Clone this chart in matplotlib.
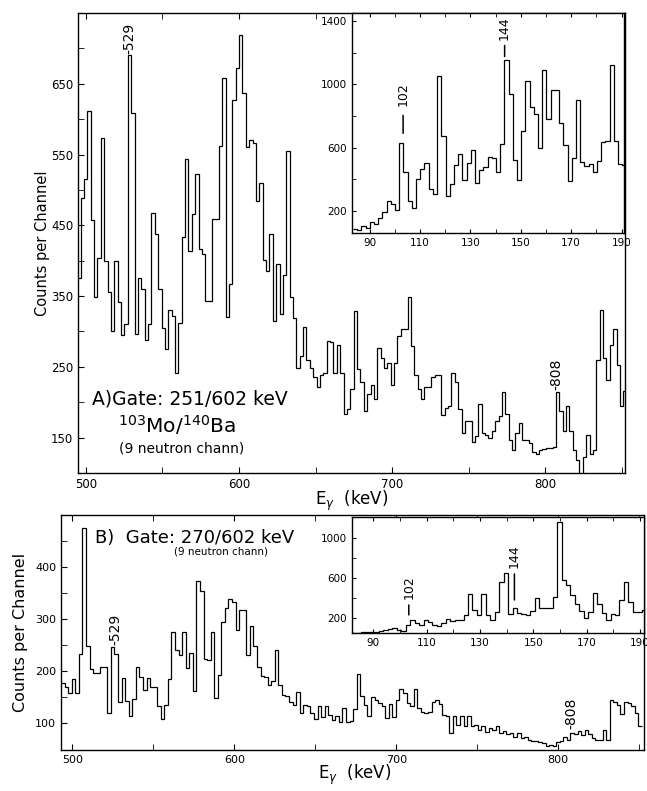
import numpy as np
import matplotlib
matplotlib.use('Agg')
import matplotlib.pyplot as plt
from matplotlib.ticker import MultipleLocator

plt.rcParams['font.family'] = 'DejaVu Sans'
plt.rcParams['xtick.direction'] = 'in'
plt.rcParams['ytick.direction'] = 'in'
plt.rcParams['xtick.top'] = True
plt.rcParams['axes.linewidth'] = 1.0
plt.rcParams['xtick.major.size'] = 4
plt.rcParams['ytick.major.size'] = 4
plt.rcParams['xtick.minor.size'] = 4
plt.rcParams['ytick.minor.size'] = 4

# channel calibration (start energy, keV per channel)
E0_A, DE_A = 494.5, 2.2
E0_B, DE_B = 493.0, 2.2
E0_IA, DE_IA = 83.4, 1.67
E0_IB, DE_IB = 82.1, 1.67

# A) gate 251/602 keV, high-energy part
counts_a = [376, 488, 516, 612, 458, 349, 404, 573, 400, 356,
            300, 399, 342, 295, 311, 690, 609, 297, 375, 360,
            288, 311, 467, 438, 360, 305, 275, 331, 322, 242,
            312, 434, 544, 414, 466, 523, 417, 410, 343, 343,
            459, 459, 562, 658, 321, 367, 627, 672, 719, 637,
            560, 571, 566, 485, 510, 401, 385, 438, 315, 396,
            324, 380, 555, 348, 319, 249, 266, 307, 260, 249,
            235, 221, 239, 241, 286, 285, 241, 281, 241, 184,
            191, 219, 329, 247, 228, 188, 212, 225, 205, 277,
            262, 249, 255, 225, 255, 293, 303, 303, 348, 280,
            238, 219, 205, 222, 221, 235, 239, 239, 182, 192,
            195, 242, 228, 191, 156, 174, 174, 144, 153, 198,
            156, 154, 150, 160, 174, 181, 215, 184, 146, 132,
            156, 170, 147, 146, 143, 129, 127, 133, 134, 136,
            136, 137, 214, 187, 160, 195, 160, 132, 118, 90,
            122, 154, 127, 132, 260, 331, 263, 232, 281, 304,
            253, 195, 216]

# A) inset, low-energy part
counts_ia = [88, 82, 105, 93, 131, 120, 158, 194, 261, 246,
             208, 629, 446, 261, 221, 404, 467, 503, 335, 309,
             1051, 672, 293, 368, 488, 558, 394, 503, 587, 373,
             461, 478, 541, 535, 446, 621, 1152, 941, 524, 394,
             705, 1021, 857, 811, 594, 1088, 783, 962, 962, 752,
             615, 389, 537, 903, 509, 484, 499, 446, 516, 636,
             640, 1120, 642, 499, 488]

# B) gate 270/602 keV, high-energy part
counts_b = [177, 170, 157, 185, 157, 233, 475, 248, 203, 197,
            197, 208, 207, 120, 247, 233, 141, 186, 143, 113,
            146, 207, 188, 163, 186, 169, 169, 132, 108, 135,
            184, 274, 240, 231, 275, 205, 235, 161, 373, 354,
            223, 221, 274, 148, 192, 295, 322, 339, 333, 279,
            317, 318, 231, 287, 248, 207, 190, 189, 173, 181,
            240, 173, 154, 151, 140, 135, 160, 120, 135, 133,
            119, 108, 132, 111, 133, 116, 105, 113, 101, 129,
            101, 103, 127, 194, 152, 135, 114, 149, 144, 139,
            133, 109, 136, 111, 144, 166,
            157, 138, 132, 165, 129, 122, 120, 122, 141, 145,
            137, 116, 113, 81, 113, 97, 113, 94, 114, 94,
            97, 86, 94, 82, 90, 87, 94, 81, 84, 78,
            81, 74, 81, 71, 74, 68, 65, 65, 63, 62,
            55, 58, 55, 63, 65, 74, 68, 81, 78, 84,
            76, 86, 78, 71, 68, 68, 86, 68, 145, 141,
            135, 118, 141, 139, 132, 120, 94]

# B) inset, low-energy part
counts_ib = [50, 50, 55, 60, 63, 63, 70, 80, 90, 97,
             80, 70, 130, 180, 147, 130, 180, 163, 130, 123,
             147, 190, 170, 180, 180, 230, 437, 280, 230, 437,
             230, 180, 257, 563, 647, 237, 303, 247, 237, 230,
             270, 403, 303, 297, 303, 413, 1163, 580, 530, 430,
             337, 270, 197, 263, 447, 337, 247, 180, 237, 230,
             380, 557, 357, 257, 257, 280]


def edges(e0, de, vals):
    return e0 + de * np.arange(len(vals) + 1)


def spectrum(ax, e0, de, vals):
    ax.stairs(vals, edges(e0, de, vals), baseline=None, color='black', lw=0.9)


fig = plt.figure(figsize=(6.47, 7.91), dpi=100)

# ---------------- panel A ----------------
ax_a = fig.add_axes([0.1206, 0.402, 0.8454, 0.5816])
spectrum(ax_a, E0_A, DE_A, counts_a)
ax_a.set_xlim(495, 852)
ax_a.set_ylim(100, 750)
ax_a.xaxis.set_major_locator(MultipleLocator(100))
ax_a.xaxis.set_minor_locator(MultipleLocator(50))
ax_a.set_yticks([150, 250, 350, 450, 550, 650])
ax_a.set_yticks([200, 300, 400, 500, 600, 700], minor=True)
ax_a.tick_params(labelsize=8.5)
ax_a.set_ylabel('Counts per Channel', fontsize=10.5)
ax_a.yaxis.set_label_coords(-0.051, 0.5)
ax_a.set_xlabel(r'E$_\gamma$  (keV)', fontsize=12)
ax_a.xaxis.set_label_coords(0.5, -0.034)
ax_a.text(528.6, 692, '-529', rotation=90, ha='center', va='bottom', fontsize=10)
ax_a.text(807.5, 217, '-808', rotation=90, ha='center', va='bottom', fontsize=10)
ax_a.text(504, 197, 'A)Gate: 251/602 keV', fontsize=13.5)
ax_a.text(521, 157, r'$^{103}$Mo/$^{140}$Ba', fontsize=14.5)
ax_a.text(522, 129, '(9 neutron chann)', fontsize=10)

ins_a = fig.add_axes([0.544, 0.7054, 0.4205, 0.2782])
spectrum(ins_a, E0_IA, DE_IA, counts_ia)
ins_a.set_xlim(83, 191)
ins_a.set_ylim(60, 1450)
ins_a.set_xticks([90, 110, 130, 150, 170, 190])
ins_a.xaxis.set_minor_locator(MultipleLocator(10))
ins_a.set_yticks([200, 600, 1000, 1400])
ins_a.set_yticks([400, 800, 1200], minor=True)
ins_a.tick_params(labelsize=7.5, length=3)
ins_a.tick_params(which='minor', length=3)
ins_a.annotate('102', xy=(103.3, 690), xytext=(103.3, 865), rotation=90,
               ha='center', va='bottom', fontsize=9,
               arrowprops=dict(arrowstyle='-', lw=1.1, color='black', shrinkA=5, shrinkB=0))
ins_a.annotate('144', xy=(143.6, 1175), xytext=(143.6, 1280), rotation=90,
               ha='center', va='bottom', fontsize=9,
               arrowprops=dict(arrowstyle='-', lw=1.1, color='black', shrinkA=2, shrinkB=0))

# ---------------- panel B ----------------
ax_b = fig.add_axes([0.0943, 0.0518, 0.9011, 0.2972])
spectrum(ax_b, E0_B, DE_B, counts_b)
ax_b.set_xlim(493, 853)
ax_b.set_ylim(48, 500)
ax_b.xaxis.set_major_locator(MultipleLocator(100))
ax_b.xaxis.set_minor_locator(MultipleLocator(50))
ax_b.set_yticks([100, 200, 300, 400])
ax_b.set_yticks([150, 250, 350, 450], minor=True)
ax_b.tick_params(labelsize=8)
ax_b.set_ylabel('Counts per Channel', fontsize=11.5)
ax_b.yaxis.set_label_coords(-0.057, 0.5)
ax_b.set_xlabel(r'E$_\gamma$  (keV)', fontsize=12)
ax_b.xaxis.set_label_coords(0.503, -0.055)
ax_b.text(526.5, 250, '-529', rotation=90, ha='center', va='bottom', fontsize=10)
ax_b.text(808.3, 88, '-808', rotation=90, ha='center', va='bottom', fontsize=10)
ax_b.text(514, 446, 'B)  Gate: 270/602 keV', fontsize=13)
ax_b.text(563, 423, '(9 neutron chann)', fontsize=7.5)

ins_b = fig.add_axes([0.544, 0.200, 0.4514, 0.146])
spectrum(ins_b, E0_IB, DE_IB, counts_ib)
ins_b.set_xlim(82, 191.5)
ins_b.set_ylim(50, 1210)
ins_b.set_xticks([90, 110, 130, 150, 170, 190])
ins_b.xaxis.set_minor_locator(MultipleLocator(10))
ins_b.set_yticks([200, 600, 1000])
ins_b.set_yticks([400, 800], minor=True)
ins_b.tick_params(labelsize=7.5, length=3)
ins_b.tick_params(which='minor', length=3)
ins_b.annotate('102', xy=(103.3, 230), xytext=(103.3, 385), rotation=90,
               ha='center', va='bottom', fontsize=9,
               arrowprops=dict(arrowstyle='-', lw=1.1, color='black', shrinkA=2, shrinkB=0))
ins_b.annotate('144', xy=(142.9, 380), xytext=(142.9, 697), rotation=90,
               ha='center', va='bottom', fontsize=9,
               arrowprops=dict(arrowstyle='-', lw=1.1, color='black', shrinkA=2, shrinkB=0))

fig.savefig('out.png', dpi=100)
